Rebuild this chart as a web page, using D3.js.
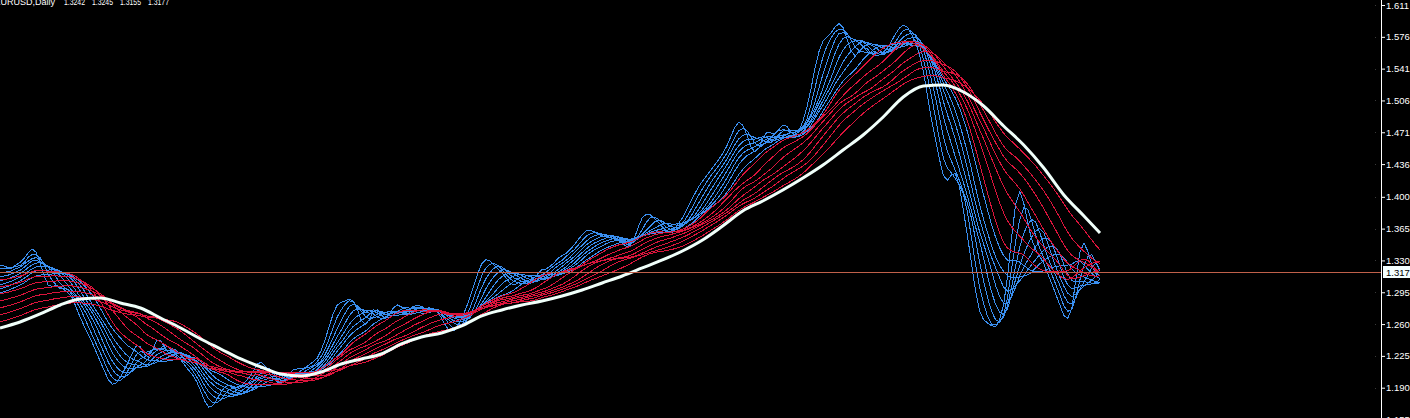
<!DOCTYPE html>
<html><head><meta charset="utf-8">
<script src="https://cdn.jsdelivr.net/npm/d3@7"></script>
<style>html,body{margin:0;padding:0;background:#000;overflow:hidden}svg{display:block}</style>
</head><body><svg id="c" width="1410" height="418"></svg>
<script>
// ---- data ----
const titleSymbol = "EURUSD,Daily";
const titleQuotes = ["1.3242", "1.3245", "1.3155", "1.3177"];
const closePrices = [
1.3261,1.3217,1.3195,1.3261,1.3305,1.3283,1.3393,1.3481,1.3415,1.3283,
1.3129,1.2997,1.2975,1.3085,1.3019,1.2931,1.2997,1.2909,1.2777,1.2667,
1.2579,1.2491,1.2403,1.2293,1.2183,1.2095,1.1985,1.1897,1.1941,1.2029,
1.2095,1.2183,1.2293,1.2381,1.2425,1.2249,1.2139,1.2337,1.2491,1.2425,
1.2337,1.2293,1.2227,1.2271,1.2227,1.2139,1.2095,1.2051,1.1985,1.1875,
1.1743,1.1655,1.1677,1.1787,1.1853,1.1919,1.1963,1.1919,1.1875,1.1919,
1.1963,1.2007,1.2073,1.2161,1.2249,1.2139,1.2051,1.2007,1.1963,1.1941,
1.1985,1.2051,1.2117,1.2139,1.2073,1.2117,1.2183,1.2161,1.2227,1.2293,
1.2425,1.2579,1.2733,1.2843,1.2865,1.2821,1.2887,1.2931,1.2755,1.2623,
1.2557,1.2623,1.2777,1.2821,1.2689,1.2623,1.2689,1.2799,1.2865,1.2777,
1.2733,1.2799,1.2755,1.2843,1.2821,1.2733,1.2755,1.2799,1.2755,1.2667,
1.2579,1.2513,1.2491,1.2579,1.2667,1.2755,1.2887,1.3019,1.3173,1.3283,
1.3349,1.3305,1.3239,1.3217,1.3173,1.3129,1.3041,1.2997,1.3063,1.3107,
1.3063,1.3041,1.3107,1.3173,1.3195,1.3239,1.3195,1.3283,1.3349,1.3349,
1.3371,1.3415,1.3481,1.3525,1.3591,1.3635,1.3657,1.3613,1.3591,1.3569,
1.3569,1.3547,1.3547,1.3525,1.3503,1.3459,1.3415,1.3525,1.3701,1.3789,
1.3833,1.3811,1.3767,1.3723,1.3679,1.3613,1.3591,1.3657,1.3701,1.3767,
1.3855,1.3943,1.4031,1.4119,1.4185,1.4229,1.4295,1.4361,1.4405,1.4471,
1.4559,1.4647,1.4779,1.4867,1.4823,1.4691,1.4559,1.4427,1.4515,1.4669,
1.4757,1.4713,1.4647,1.4735,1.4845,1.4801,1.4691,1.4647,1.4713,1.4823,
1.4977,1.5175,1.5417,1.5659,1.5725,1.5769,1.5791,1.5857,1.5967,1.5901,
1.5725,1.5593,1.5505,1.5571,1.5703,1.5659,1.5549,1.5527,1.5593,1.5571,
1.5615,1.5725,1.5791,1.5857,1.5923,1.5901,1.5791,1.5703,1.5615,1.5417,
1.5109,1.4845,1.4625,1.4449,1.4185,1.4075,1.4295,1.4361,1.4119,1.3855,
1.3569,1.3283,1.2953,1.2667,1.2623,1.2667,1.2557,1.2535,1.2623,1.2799,
1.3041,1.3569,1.4075,1.4141,1.3965,1.3701,1.3481,1.3415,1.3371,1.3261,
1.3173,1.3041,1.2931,1.2821,1.2689,1.2579,1.2733,1.3041,1.3525,1.3613,
1.3349,1.3239,1.3151,1.3085,1.3177
];
// moving-average ribbons: periods (bars) and the value each line shows at the first visible bar
const shortPeriods = [3, 5, 7, 9, 11, 13, 15, 18];
const shortStart   = [1.3250, 1.3206, 1.3162, 1.3118, 1.3074, 1.3030, 1.2986, 1.2942];
const longPeriods  = [20, 24, 28, 32, 36, 40, 45];
const longStart    = [1.3085, 1.3008, 1.2931, 1.2854, 1.2777, 1.2700, 1.2623];
// slow trend line (white), read every 5 bars, plus the last bar
const trendValues = [
1.2557,1.2623,1.2711,1.2810,1.2876,1.2887,1.2832,1.2777,1.2667,1.2557,
1.2436,1.2326,1.2216,1.2128,1.2051,1.2029,1.2073,1.2161,1.2216,1.2271,
1.2381,1.2458,1.2502,1.2579,1.2689,1.2755,1.2810,1.2854,1.2909,1.2975,
1.3052,1.3129,1.3217,1.3305,1.3404,1.3525,1.3679,1.3844,1.3954,1.4075,
1.4207,1.4350,1.4515,1.4680,1.4878,1.5098,1.5219,1.5230,1.5153,1.4999,
1.4779,1.4570,1.4317,1.4020,1.3789,1.3602
];
const priceTicks = [1.155,1.190,1.225,1.260,1.295,1.330,1.365,1.400,1.436,1.471,1.506,1.541,1.576,1.611];
const lastPrice = 1.3177;
const lastLabel = "1.317";

// ---- layout ----
const W = 1410, H = 418, axisX = 1381, lastBarX = 1100;
const svg = d3.select("#c");
svg.append("rect").attr("width", W).attr("height", H).attr("fill", "#000");

const n = closePrices.length;
const x = d3.scaleLinear().domain([0, n - 1]).range([0, lastBarX]);
const y = d3.scaleLinear().domain([1.190, 1.611]).range([387.7, 5]);

// simple moving average; bars before the window are stood in for by the start value
function sma(values, period, start) {
  let s = start;
  return values.map((v, i) => {
    if (i > 0) { const old = i - period >= 0 ? values[i - period] : start; s += (v - old) / period; }
    return s;
  });
}
const line = d3.line().x((d, i) => x(i)).y(d => y(d));

const plot = svg.append("g");
shortPeriods.forEach((p, k) => {
  plot.append("path").datum(sma(closePrices, p, shortStart[k]))
    .attr("d", line).attr("fill", "none").attr("stroke", "#3a8ff0")
    .attr("stroke-width", 1).attr("shape-rendering", "crispEdges");
});
longPeriods.forEach((p, k) => {
  plot.append("path").datum(sma(closePrices, p, longStart[k]))
    .attr("d", line).attr("fill", "none").attr("stroke", "#dc143c")
    .attr("stroke-width", 1).attr("shape-rendering", "crispEdges");
});
const trendBars = d3.range(0, n - 4, 5).concat([n - 1]);
plot.append("path").datum(trendValues.map((v, k) => [trendBars[k], v]))
  .attr("d", d3.line().x(d => x(d[0])).y(d => y(d[1])).curve(d3.curveMonotoneX))
  .attr("fill", "none").attr("stroke", "#f0fffa").attr("stroke-width", 3);

// last price line
const ly = Math.round(y(lastPrice)) + 0.5;
svg.append("line").attr("x1", 0).attr("x2", axisX).attr("y1", ly).attr("y2", ly)
  .attr("stroke", "#c0604a").attr("stroke-width", 1);

// price scale
svg.append("line").attr("x1", axisX + 0.5).attr("x2", axisX + 0.5).attr("y1", 0).attr("y2", H)
  .attr("stroke", "#fff").attr("stroke-width", 1);
const axis = d3.axisRight(y).tickValues(priceTicks).tickFormat(d3.format(".3f")).tickSize(4).tickPadding(1);
const ag = svg.append("g").attr("transform", `translate(${axisX},0)`).call(axis);
ag.select(".domain").remove();
ag.selectAll(".tick line").attr("stroke", "#fff");
ag.selectAll(".tick text").attr("fill", "#fff").attr("font-family", "Liberation Sans, Arial, sans-serif").attr("font-size", 9.5);
svg.selectAll(".gdot").data(priceTicks).enter().append("rect")
  .attr("x", axisX - 6).attr("y", d => Math.round(y(d))).attr("width", 1).attr("height", 1).attr("fill", "#3a3a3a");

// last price label
svg.append("rect").attr("x", axisX + 2).attr("y", ly - 6.5).attr("width", W - axisX - 2).attr("height", 12).attr("fill", "#f4ffff");
svg.append("text").attr("x", axisX + 5).attr("y", ly).attr("dy", "0.35em").text(lastLabel)
  .attr("fill", "#000").attr("font-family", "Liberation Sans, Arial, sans-serif").attr("font-size", 9.5);

// title (partly outside the window, as in the screenshot)
const tg = svg.append("g").attr("fill", "#fff").attr("font-family", "Liberation Sans, Arial, sans-serif").attr("font-size", 9);
tg.append("text").attr("x", 55).attr("y", 5).attr("text-anchor", "end").text(titleSymbol);
tg.selectAll(".q").data(titleQuotes).enter().append("text")
  .attr("x", (d, i) => 64 + i * 28).attr("y", 5)
  .attr("textLength", 21).attr("lengthAdjust", "spacingAndGlyphs").text(d => d);
</script>
</body></html>
